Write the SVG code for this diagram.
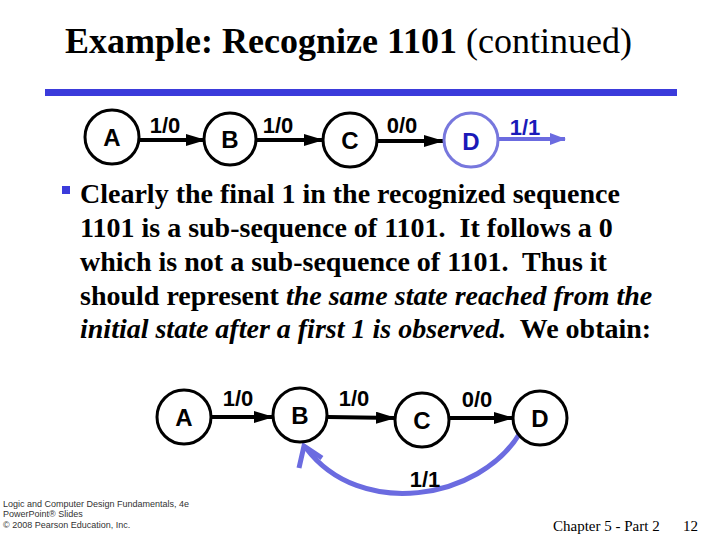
<svg xmlns="http://www.w3.org/2000/svg" width="720" height="540" viewBox="0 0 720 540">
<defs>
<style>
.st{fill:#fff;stroke:#000;stroke-width:3}
.sl{font-family:"Liberation Sans",Arial,sans-serif;font-weight:bold;font-size:24px;text-anchor:middle}
.lb{font-family:"Liberation Sans",Arial,sans-serif;font-weight:bold;font-size:22px;text-anchor:middle}
.ed{stroke:#000;stroke-width:4;fill:none}
.body{font-family:"Liberation Serif","Times New Roman",serif;font-size:28px;font-weight:bold}
</style>
<marker id="ah" viewBox="0 0 20 12" refX="19" refY="6" markerWidth="20" markerHeight="12" markerUnits="userSpaceOnUse" orient="auto">
<path d="M0,0 L20,6 L0,12 Z" fill="#000"/>
</marker>
<marker id="ahb" viewBox="0 0 16 12" refX="15" refY="6" markerWidth="16" markerHeight="12" markerUnits="userSpaceOnUse" orient="auto">
<path d="M0,0 L16,6 L0,12 Z" fill="#6b6be0"/>
</marker>
</defs>
<rect width="720" height="540" fill="#fff"/>
<text x="65" y="53" font-family="'Liberation Serif','Times New Roman',serif" font-size="36px"><tspan font-weight="bold">Example: Recognize 1101</tspan> (continued)</text>
<rect x="45" y="89" width="632" height="7" fill="#3b3bdb"/>
<g id="connectors">
<line class="ed" x1="140" y1="140" x2="205" y2="140" marker-end="url(#ah)"/>
<line class="ed" x1="257" y1="140" x2="323" y2="140" marker-end="url(#ah)"/>
<line class="ed" x1="377" y1="141" x2="443" y2="141" marker-end="url(#ah)"/>
<line x1="499" y1="139" x2="565" y2="139" stroke="#6b6be0" stroke-width="4" marker-end="url(#ahb)"/>
<line class="ed" x1="211" y1="417" x2="273" y2="417" marker-end="url(#ah)"/>
<line class="ed" x1="328" y1="417" x2="395" y2="418" marker-end="url(#ah)"/>
<line class="ed" x1="449" y1="418" x2="513" y2="418" marker-end="url(#ah)"/>
<path d="M520,433 C480,500 360,520 306,448" fill="none" stroke="#6b6be0" stroke-width="5"/>
<path d="M299,468 L304,446 L322,458" fill="none" stroke="#6b6be0" stroke-width="5"/>
<text class="lb" x="165" y="133">1/0</text>
<text class="lb" x="278" y="133">1/0</text>
<text class="lb" x="402" y="133">0/0</text>
<text class="lb" x="525" y="135" fill="#1a1ab8" font-size="25px">1/1</text>
<text class="lb" x="238" y="406" font-size="24px">1/0</text>
<text class="lb" x="354" y="406" font-size="24px">1/0</text>
<text class="lb" x="477" y="407" font-size="24px">0/0</text>
<text class="lb" x="425" y="487" font-size="24px">1/1</text>
</g>
<g id="A1"><circle class="st" cx="112" cy="137" r="27"/><text class="sl" x="112" y="146">A</text></g>
<g id="B1"><circle class="st" cx="230" cy="139" r="26"/><text class="sl" x="230" y="148">B</text></g>
<g id="C1"><circle class="st" cx="350" cy="140" r="27"/><text class="sl" x="350" y="149">C</text></g>
<g id="D1"><circle cx="471" cy="140" r="27" fill="#fff" stroke="#7777dd" stroke-width="3"/><text class="sl" x="471" y="150" fill="#1a1ab8">D</text></g>
<g id="A2"><circle class="st" cx="184" cy="417" r="27"/><text class="sl" x="184" y="426">A</text></g>
<g id="B2"><circle class="st" cx="300" cy="415" r="27"/><text class="sl" x="300" y="424">B</text></g>
<g id="C2"><circle class="st" cx="422" cy="420" r="27"/><text class="sl" x="422" y="429">C</text></g>
<g id="D2"><circle class="st" cx="540" cy="418" r="27"/><text class="sl" x="540" y="427">D</text></g>
<rect x="62" y="186" width="8" height="8" fill="#3b3bdb"/>
<text class="body" x="80" y="203">Clearly the final 1 in the recognized sequence</text>
<text class="body" x="80" y="237" xml:space="preserve">1101 is a sub-sequence of 1101.  It follows a 0</text>
<text class="body" x="80" y="271" xml:space="preserve">which is not a sub-sequence of 1101.  Thus it</text>
<text class="body" x="80" y="305" xml:space="preserve">should represent <tspan font-style="italic">the same state reached from the</tspan></text>
<text class="body" x="80" y="338" xml:space="preserve"><tspan font-style="italic">initial state after a first 1 is observed.</tspan>  We obtain:</text>
<g font-family="'Liberation Sans',Arial,sans-serif" font-size="9px" fill="#333">
<text x="3" y="507">Logic and Computer Design Fundamentals, 4e</text>
<text x="3" y="517">PowerPoint® Slides</text>
<text x="3" y="528">© 2008 Pearson Education, Inc.</text>
</g>
<text x="553" y="531" font-family="'Liberation Serif','Times New Roman',serif" font-size="15px">Chapter 5 - Part 2</text>
<text x="683" y="531" font-family="'Liberation Serif','Times New Roman',serif" font-size="15px">12</text>
</svg>
